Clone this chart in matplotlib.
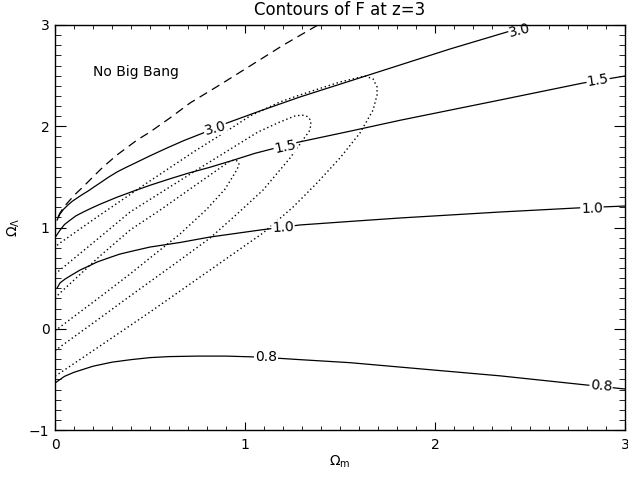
# Contours of F at z=3 in the (Omega_m, Omega_Lambda) plane
import matplotlib
matplotlib.use("Agg")
import matplotlib.pyplot as plt
from matplotlib.ticker import MultipleLocator

# solid contours of F
f30_om = [0.011, 0.026, 0.045, 0.068, 0.090, 0.116, 0.145, 0.174, 0.205, 0.237,
          0.280, 0.326, 0.370, 0.411, 0.500, 0.589, 0.680, 0.779, 0.905, 1.079,
          1.289, 1.553, 1.816, 2.079, 2.379, 2.553]
f30_ol = [1.074, 1.133, 1.180, 1.222, 1.258, 1.291, 1.327, 1.360, 1.400, 1.440,
          1.495, 1.548, 1.590, 1.627, 1.708, 1.785, 1.860, 1.933, 2.032, 2.151,
          2.289, 2.447, 2.605, 2.763, 2.931, 3.020]

f15_om = [0.005, 0.026, 0.050, 0.079, 0.110, 0.147, 0.190, 0.237, 0.326, 0.411,
          0.500, 0.600, 0.700, 0.816, 0.930, 1.053, 1.279, 1.550, 1.816, 2.342,
          2.779, 3.0]
f15_ol = [0.914, 0.973, 1.030, 1.072, 1.115, 1.151, 1.190, 1.230, 1.299, 1.358,
          1.417, 1.478, 1.536, 1.595, 1.660, 1.733, 1.842, 1.950, 2.059, 2.259,
          2.427, 2.496]

f10_om = [0.011, 0.026, 0.053, 0.079, 0.132, 0.184, 0.221, 0.289, 0.342, 0.421,
          0.500, 0.658, 0.816, 1.079, 1.289, 1.553, 1.816, 2.342, 2.747, 3.0]
f10_ol = [0.402, 0.452, 0.491, 0.521, 0.580, 0.625, 0.659, 0.704, 0.738, 0.773,
          0.807, 0.852, 0.906, 0.975, 1.025, 1.060, 1.094, 1.153, 1.193, 1.212]

f08_om = [0.0, 0.050, 0.100, 0.200, 0.300, 0.400, 0.500, 0.600, 0.750, 0.900,
          1.079, 1.289, 1.553, 1.989, 2.342, 2.800, 3.0]
f08_ol = [-0.536, -0.470, -0.430, -0.370, -0.330, -0.305, -0.285, -0.275, -0.270,
          -0.270, -0.280, -0.305, -0.335, -0.407, -0.465, -0.556, -0.595]

# no big bang boundary
nbb_om = [0.016, 0.026, 0.050, 0.079, 0.110, 0.147, 0.200, 0.253, 0.326, 0.432,
          0.500, 0.605, 0.711, 0.860, 1.026, 1.200, 1.384]
nbb_ol = [1.104, 1.143, 1.210, 1.272, 1.335, 1.400, 1.500, 1.598, 1.716, 1.864,
          1.943, 2.082, 2.230, 2.400, 2.595, 2.800, 3.0]

# confidence regions (dotted), inner to outer
conf1_om = [0.000, 0.026, 0.237, 0.395, 0.500, 0.658, 0.800, 0.895, 0.947, 0.962,
            0.968, 0.962, 0.945, 0.920, 0.763, 0.553, 0.395, 0.237, 0.026, 0.000]
conf1_ol = [-0.022, 0.017, 0.314, 0.541, 0.699, 0.936, 1.183, 1.380, 1.538, 1.590,
            1.627, 1.655, 1.667, 1.655, 1.449, 1.172, 0.975, 0.719, 0.353, 0.304]

conf2_om = [0.000, 0.026, 0.237, 0.395, 0.658, 0.816, 0.958, 1.095, 1.237, 1.316,
            1.338, 1.347, 1.345, 1.330, 1.300, 1.260, 1.184, 1.068, 0.763, 0.395,
            0.237, 0.026, 0.000]
conf2_ol = [-0.219, -0.180, 0.106, 0.323, 0.679, 0.896, 1.133, 1.370, 1.686, 1.894,
            1.950, 2.012, 2.060, 2.095, 2.111, 2.100, 2.042, 1.943, 1.588, 1.153,
            0.906, 0.580, 0.541]

conf3_om = [0.000, 0.026, 0.237, 0.500, 0.816, 1.095, 1.253, 1.379, 1.500, 1.605,
            1.674, 1.695, 1.695, 1.674, 1.632, 1.500, 1.289, 1.184, 1.026, 0.921,
            0.737, 0.484, 0.237, 0.026, 0.000]
conf3_ol = [-0.467, -0.437, -0.170, 0.165, 0.580, 0.946, 1.202, 1.440, 1.687, 1.933,
            2.160, 2.309, 2.388, 2.467, 2.496, 2.437, 2.309, 2.240, 2.101, 1.973,
            1.756, 1.440, 1.124, 0.847, 0.808]

# contour labels: text, position, angle
lab_txt = ["3.0", "3.0", "1.5", "1.5", "1.0", "1.0", "0.8", "0.8"]
lab_om = [0.842, 2.447, 1.211, 2.858, 1.200, 2.826, 1.111, 2.874]
lab_ol = [1.980, 2.950, 1.800, 2.457, 1.000, 1.190, -0.280, -0.570]
lab_rot = [15, 14, 12, 9, 3, 2, 0, -5]

fig = plt.figure(figsize=(6.28, 4.78), dpi=100)
ax = fig.add_axes([0.0876, 0.1004, 0.9076, 0.8473])

lw = 0.9
for xs, ys in [(f30_om, f30_ol), (f15_om, f15_ol), (f10_om, f10_ol), (f08_om, f08_ol)]:
    ax.plot(xs, ys, color="black", lw=lw, zorder=1.5)

ax.plot(nbb_om, nbb_ol, color="black", lw=lw, linestyle=(0, (7, 4.5)), zorder=1.5)

for xs, ys in [(conf1_om, conf1_ol), (conf2_om, conf2_ol), (conf3_om, conf3_ol)]:
    ax.plot(xs, ys, color="black", lw=1.0, linestyle=(0, (1, 2)), zorder=1.5)

for t, x, y, r in zip(lab_txt, lab_om, lab_ol, lab_rot):
    ax.text(x, y, t, fontsize=10, ha="center", va="center", rotation=r,
            rotation_mode="anchor", zorder=2,
            bbox=dict(facecolor="white", edgecolor="none", pad=0.5))

ax.text(0.2, 2.536, "No Big Bang", fontsize=10, ha="left", va="center")

ax.set_xlim(0, 3)
ax.set_ylim(-1, 3)
ax.xaxis.set_major_locator(MultipleLocator(1))
ax.xaxis.set_minor_locator(MultipleLocator(0.1))
ax.yaxis.set_major_locator(MultipleLocator(1))
ax.yaxis.set_minor_locator(MultipleLocator(0.1))
ax.tick_params(which="both", direction="in", top=True, right=True, labelsize=10)
ax.tick_params(axis="x", which="major", length=5.8, pad=6)
ax.tick_params(axis="x", which="minor", length=2.9)
ax.tick_params(axis="y", which="major", length=8.2, pad=4)
ax.tick_params(axis="y", which="minor", length=4.1)
for s in ax.spines.values():
    s.set_linewidth(1.0)

ax.set_title("Contours of F at z=3", fontsize=12, pad=7)
ax.set_xlabel(r"$\Omega_{\rm m}$", fontsize=10, labelpad=1)
ax.set_ylabel(r"$\Omega_\Lambda$", fontsize=10, labelpad=5)

plt.savefig("out.png", dpi=100)
